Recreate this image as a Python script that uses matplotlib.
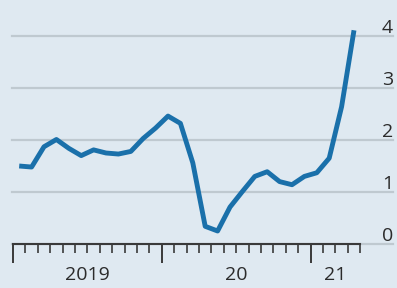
import matplotlib
matplotlib.use("Agg")
import matplotlib.pyplot as plt
import matplotlib.transforms as mtransforms
import numpy as np

# monthly values, Jan 2019 - Apr 2021
values = [1.50, 1.48, 1.87, 2.01, 1.84, 1.70, 1.81, 1.75, 1.73, 1.78,
          2.03, 2.23, 2.46, 2.32, 1.56, 0.34, 0.25, 0.71, 1.01, 1.30,
          1.39, 1.20, 1.14, 1.30, 1.37, 1.65, 2.64, 4.11]
y_ticks = [0, 1, 2, 3, 4]
year_labels = ["2019", "20", "21"]
year_starts = [0, 12, 24]
year_ends = [12, 24, 28]

bg = "#dfe9f1"
line_col = "#1a70aa"
grid_col = "#bfc9d0"
text_col = "#2b2b2b"

plt.rcParams['font.family'] = ['Open Sans', 'DejaVu Sans']

fig = plt.figure(figsize=(3.97, 2.88), dpi=100)
fig.patch.set_facecolor(bg)
ax = fig.add_axes([0, 0, 1, 1])
ax.set_facecolor(bg)

x = np.arange(len(values)) + 0.5
ax.set_xlim(-13 / 12.4, (397 - 13) / 12.4)
ax.set_ylim(-44 / 52.0, 244 / 52.0)

# gridlines (run under the labels, almost to the right edge)
for t in y_ticks:
    ax.axhline(t, xmin=0.030, xmax=0.990, color=grid_col, lw=1.6, zorder=1)

ax.plot(x, values, color=line_col, lw=3.5, solid_joinstyle='round',
        solid_capstyle='butt', zorder=3)

# y labels on the right, sitting on the lines
trans = mtransforms.blended_transform_factory(ax.transAxes, ax.transData)
for t in y_ticks:
    ax.annotate(str(t), xy=(0.990, t), xycoords=trans, xytext=(0, 2.2),
                textcoords='offset points', ha='right', va='baseline',
                fontsize=14, color=text_col)

# x axis
for s in ['top', 'left', 'right']:
    ax.spines[s].set_visible(False)
ax.spines['bottom'].set_position(('data', 0))
ax.spines['bottom'].set_bounds(0, 28)
ax.spines['bottom'].set_color('#3a3a3a')
ax.spines['bottom'].set_linewidth(1.5)
ax.spines['bottom'].set_zorder(2)
ax.set_xticks(year_starts)
ax.set_xticks(np.arange(0, 29), minor=True)
ax.tick_params(axis='x', which='major', direction='out', length=14, width=1.4,
               color='#3a3a3a', labelbottom=False)
ax.tick_params(axis='x', which='minor', direction='out', length=6.5, width=1.2,
               color='#3a3a3a')
ax.set_yticks([])

for lab, a, b in zip(year_labels, year_starts, year_ends):
    ax.text((a + b) / 2, -0.60, lab, ha='center', va='center',
            fontsize=14, color=text_col)

fig.savefig("out.png", dpi=100, facecolor=bg)
